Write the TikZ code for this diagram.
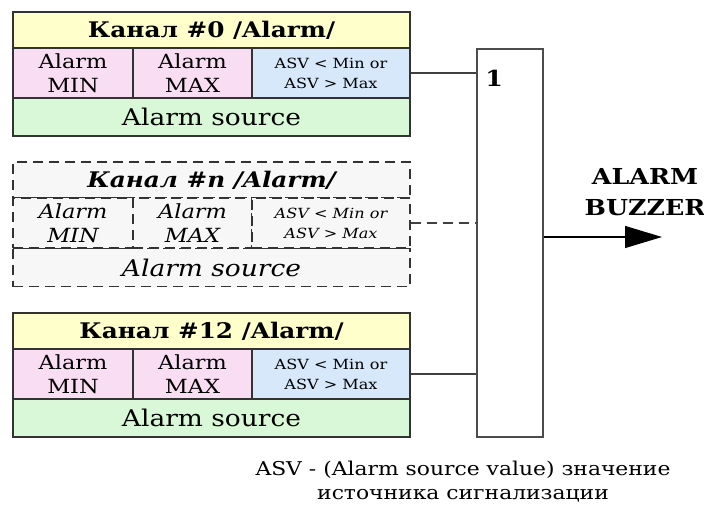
\documentclass[tikz,border=0pt]{standalone}
\usepackage{fontspec}
\setmainfont[FakeStretch=1.15]{DejaVu Serif}
\usetikzlibrary{arrows.meta}

\definecolor{titleyellow}{HTML}{FFFFCC}
\definecolor{limitpink}{HTML}{F9DDF2}
\definecolor{asvblue}{HTML}{D6E8FA}
\definecolor{sourcegreen}{HTML}{D8F8D8}
\definecolor{sparegray}{HTML}{F7F7F7}
\definecolor{edgegray}{HTML}{333333}

\tikzset{
  cell/.style={draw=edgegray, line width=1.3pt, inner sep=0pt, align=center, minimum height=50pt},
  titlecell/.style={cell, fill=titleyellow, minimum width=397pt, minimum height=36pt,
    font=\fontsize{21.5}{24}\selectfont\bfseries#1},
  titlecell/.default={},
  limitcell/.style={cell, fill=limitpink, minimum width=120pt, font=\fontsize{19.5}{24}\selectfont#1},
  limitcell/.default={},
  asvcell/.style={cell, fill=asvblue, minimum width=158pt, font=\fontsize{14}{20}\selectfont#1},
  asvcell/.default={},
  sourcecell/.style={cell, fill=sourcegreen, minimum width=397pt, minimum height=38pt,
    font=\fontsize{23}{26}\selectfont#1},
  sourcecell/.default={},
  spare/.style={dash pattern=on 10pt off 6pt, line width=1.5pt, fill=sparegray},
  wire/.style={draw=black!75, line width=1.4pt}
}

\begin{document}
\begin{tikzpicture}[x=1pt, y=-1pt]
  \useasboundingbox (0,0) rectangle (704,504);

  % Channel 0
  \node[titlecell] (title0) at (211.5,30) {Канал \#0 /Alarm/};
  \node[limitcell] (min0) at (73,73) {Alarm\\MIN};
  \node[limitcell, minimum width=119pt] (max0) at (192.5,73) {Alarm\\MAX};
  \node[asvcell] (asv0) at (331,73) {ASV < Min or\\ASV > Max};
  \node[sourcecell] (src0) at (211.5,117) {Alarm source};

  % Channel n
  \node[titlecell=\itshape, spare] (titlen) at (211.5,180) {Канал \#n /Alarm/};
  \node[limitcell=\itshape, spare] (minn) at (73,223) {Alarm\\MIN};
  \node[limitcell=\itshape, spare, minimum width=119pt] (maxn) at (192.5,223) {Alarm\\MAX};
  \node[asvcell=\itshape, spare] (asvn) at (331,223) {ASV < Min or\\ASV > Max};
  \node[sourcecell=\itshape, spare] (srcn) at (211.5,267.5) {Alarm source};

  % Channel 12
  \node[titlecell] (title12) at (211.5,331) {Канал \#12 /Alarm/};
  \node[limitcell] (min12) at (73,374) {Alarm\\MIN};
  \node[limitcell, minimum width=119pt] (max12) at (192.5,374) {Alarm\\MAX};
  \node[asvcell] (asv12) at (331,374) {ASV < Min or\\ASV > Max};
  \node[sourcecell] (src12) at (211.5,418) {Alarm source};

  % OR gate
  \node[draw=black!70, line width=1.6pt, minimum width=66pt, minimum height=388pt, inner sep=0pt]
    (gate) at (510,243) {};
  \node[font=\fontsize{22}{24}\selectfont\bfseries] (gatenum) at ([shift={(18,30)}]gate.north west) {1};

  % Inputs
  \draw[wire] (asv0.east) -- (asv0.east -| gate.west);
  \draw[wire, dash pattern=on 10pt off 6pt] (asvn.east) -- (asvn.east -| gate.west);
  \draw[wire] (asv12.east) -- (asv12.east -| gate.west);

  % Output
  \coordinate (horn) at (662,237);
  \draw[line width=1.2pt, -{Triangle[length=37pt, width=22pt]}] (gate.east |- horn) -- (horn);
  \node[font=\fontsize{22}{31}\selectfont\bfseries, align=center] (hornlbl) at (645,192) {ALARM\\BUZZER};

  % Note
  \node[font=\fontsize{19}{24}\selectfont, align=center] (note) at (463,482)
    {ASV - (Alarm source value) значение\\источника сигнализации};
\end{tikzpicture}
\end{document}
